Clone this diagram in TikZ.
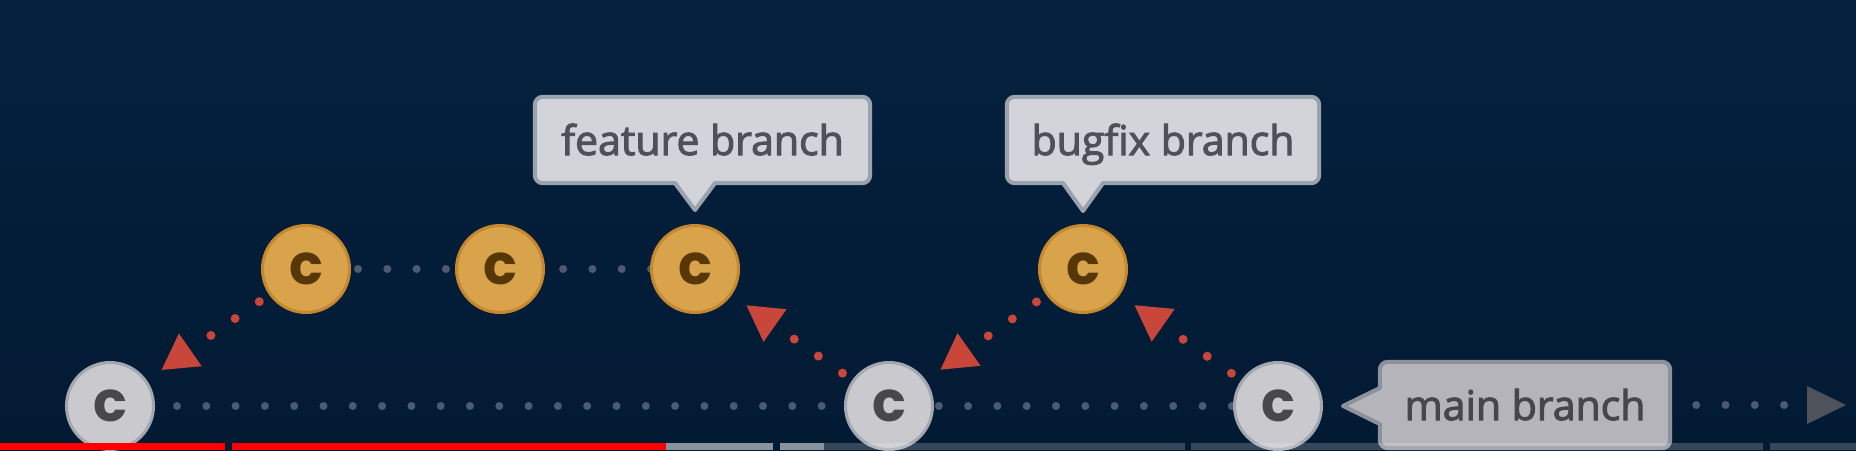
\documentclass[tikz,border=0pt]{standalone}
\usepackage{fontspec}
\setmainfont{Open Sans}
\newfontfamily\lblfont{Open Sans}[FakeBold=2.5]
\newfontfamily\commitfont{Poppins}
\usetikzlibrary{arrows.meta,calc}
\definecolor{bgtop}{HTML}{04213F}
\definecolor{bgbot}{HTML}{031A33}
\definecolor{cgray}{HTML}{C9C9CE}
\definecolor{cgrayline}{HTML}{A2A7B0}
\definecolor{cgraytext}{HTML}{47474C}
\definecolor{corange}{HTML}{D9A34B}
\definecolor{corangeline}{HTML}{C4892E}
\definecolor{corangetext}{HTML}{573708}
\definecolor{cred}{HTML}{C8463A}
\definecolor{dotgray}{HTML}{4C5B70}
\definecolor{tailgray}{HTML}{4E525B}
\definecolor{lblfill}{HTML}{D3D4DA}
\definecolor{lblline}{HTML}{9AA2AE}
\definecolor{lbltext}{HTML}{505058}
\definecolor{mainfill}{HTML}{B4B4BA}
\definecolor{mainline}{HTML}{8C929C}
\definecolor{maintext}{HTML}{46464C}
\definecolor{ytred}{HTML}{FF0000}
\pgfdeclarelayer{bglayer}
\pgfdeclarelayer{edges}
\pgfdeclarelayer{boxes}
\pgfdeclarelayer{front}
\pgfsetlayers{bglayer,edges,boxes,main,front}
\begin{document}
\begin{tikzpicture}[x=1pt,y=-1pt,
  commit/.style={circle, minimum size=87pt, inner sep=0pt, line width=3pt,
    font=\commitfont\bfseries\fontsize{56}{56}\selectfont},
  maincommit/.style={commit, fill=cgray, draw=cgrayline, text=cgraytext},
  sidecommit/.style={commit, fill=corange, draw=corangeline, text=corangetext},
  graydots/.style={draw=dotgray, line width=8pt, line cap=round, dash pattern=on 0pt off 29.3pt},
  reddots/.style={draw=cred, line width=9pt, line cap=round, dash pattern=on 0pt off 29.5pt,
    -{Triangle[length=35pt,width=40pt,line width=0pt,color=cred]}, shorten <=12pt, shorten >=18pt},
  branchlabel/.style={rectangle, text=lbltext, font=\lblfont\fontsize{41}{41}\selectfont,
    inner sep=0pt, minimum height=86pt, text height=30pt, text depth=0pt},
  mainlabel/.style={branchlabel, text=maintext},
  boxfill/.style={fill=#1},
  boxline/.style={draw=#1, line width=4pt},
]
\useasboundingbox (0,0) rectangle (1856,450);
\begin{pgfonlayer}{bglayer}
  \shade[top color=bgtop, bottom color=bgbot] (0,0) rectangle (1856,450);
\end{pgfonlayer}

% commits
\node[maincommit] (C1) at (110,406) {c};
\node[maincommit] (C2) at (889,406) {c};
\node[maincommit] (C3) at (1278,406) {c};
\node[sidecommit] (F1) at (306,269) {c};
\node[sidecommit] (F2) at (500,269) {c};
\node[sidecommit] (F3) at (695,269) {c};
\node[sidecommit] (B1) at (1083,269) {c};

% labels
\node[branchlabel, minimum width=335pt] (featlbl) at (702.5,140) {feature branch};
\node[branchlabel, minimum width=312pt] (buglbl) at (1163,140) {bugfix branch};
\node[mainlabel, minimum width=290pt] (mainlbl) at (1525,405) {main branch};
\coordinate (feattip) at ($(F3.north)+(0,-14)$);
\coordinate (bugtip) at ($(B1.north)+(0,-13)$);
\coordinate (maintip) at ($(C3.east)+(20,0)$);
\coordinate (tailend) at (1846,405);

\begin{pgfonlayer}{boxes}
  % feature branch callout
  \path[boxfill=lblfill, boxline=lblline, rounded corners=8pt] (featlbl.south west) rectangle (featlbl.north east);
  \fill[lblfill] ($(featlbl.south -| feattip)+(-20,-4)$) -- (feattip) -- ($(featlbl.south -| feattip)+(20,-4)$) -- cycle;
  \draw[boxline=lblline, line join=round] ($(featlbl.south -| feattip)+(-20,0)$) -- (feattip) -- ($(featlbl.south -| feattip)+(20,0)$);
  % bugfix branch callout
  \path[boxfill=lblfill, boxline=lblline, rounded corners=8pt] (buglbl.south west) rectangle (buglbl.north east);
  \fill[lblfill] ($(buglbl.south -| bugtip)+(-20,-4)$) -- (bugtip) -- ($(buglbl.south -| bugtip)+(20,-4)$) -- cycle;
  \draw[boxline=lblline, line join=round] ($(buglbl.south -| bugtip)+(-20,0)$) -- (bugtip) -- ($(buglbl.south -| bugtip)+(20,0)$);
  % main branch callout
  \path[boxfill=mainfill, boxline=mainline, rounded corners=8pt] (mainlbl.south west) rectangle (mainlbl.north east);
  \fill[mainfill] ($(mainlbl.west |- maintip)+(4,18)$) -- (maintip) -- ($(mainlbl.west |- maintip)+(4,-18)$) -- cycle;
  \draw[boxline=mainline, line join=round] ($(mainlbl.west |- maintip)+(0,18)$) -- (maintip) -- ($(mainlbl.west |- maintip)+(0,-18)$);
\end{pgfonlayer}

% connectors
\begin{pgfonlayer}{edges}
  \draw[graydots, dash phase=20.9pt] (C1.center) -- (C2.center) -- (C3.center);
  \draw[graydots, dash phase=6.6pt] (F1.center) -- (F2.center) -- (F3.center);
  \draw[graydots, shorten <=26pt, -{Triangle[length=39pt,width=38pt,line width=0pt,color=tailgray]}]
    (mainlbl.east) -- (tailend);
  \draw[reddots] (F1) -- (C1);
  \draw[reddots] (C2) -- (F3);
  \draw[reddots] (B1) -- (C2);
  \draw[reddots] (C3) -- (B1);
\end{pgfonlayer}

% video progress bar
\begin{pgfonlayer}{front}
  \fill[ytred] (0,443) rectangle (225,450);
  \fill[ytred] (232,443) rectangle (666,450);
  \fill[white, fill opacity=0.53] (666,443) rectangle (773,450);
  \fill[white, fill opacity=0.53] (780,443) rectangle (824,450);
  \fill[white, fill opacity=0.2] (824,443) rectangle (1185,450);
  \fill[white, fill opacity=0.2] (1191,443) rectangle (1763,450);
  \fill[white, fill opacity=0.2] (1770,443) rectangle (1856,450);
\end{pgfonlayer}
\end{tikzpicture}
\end{document}
